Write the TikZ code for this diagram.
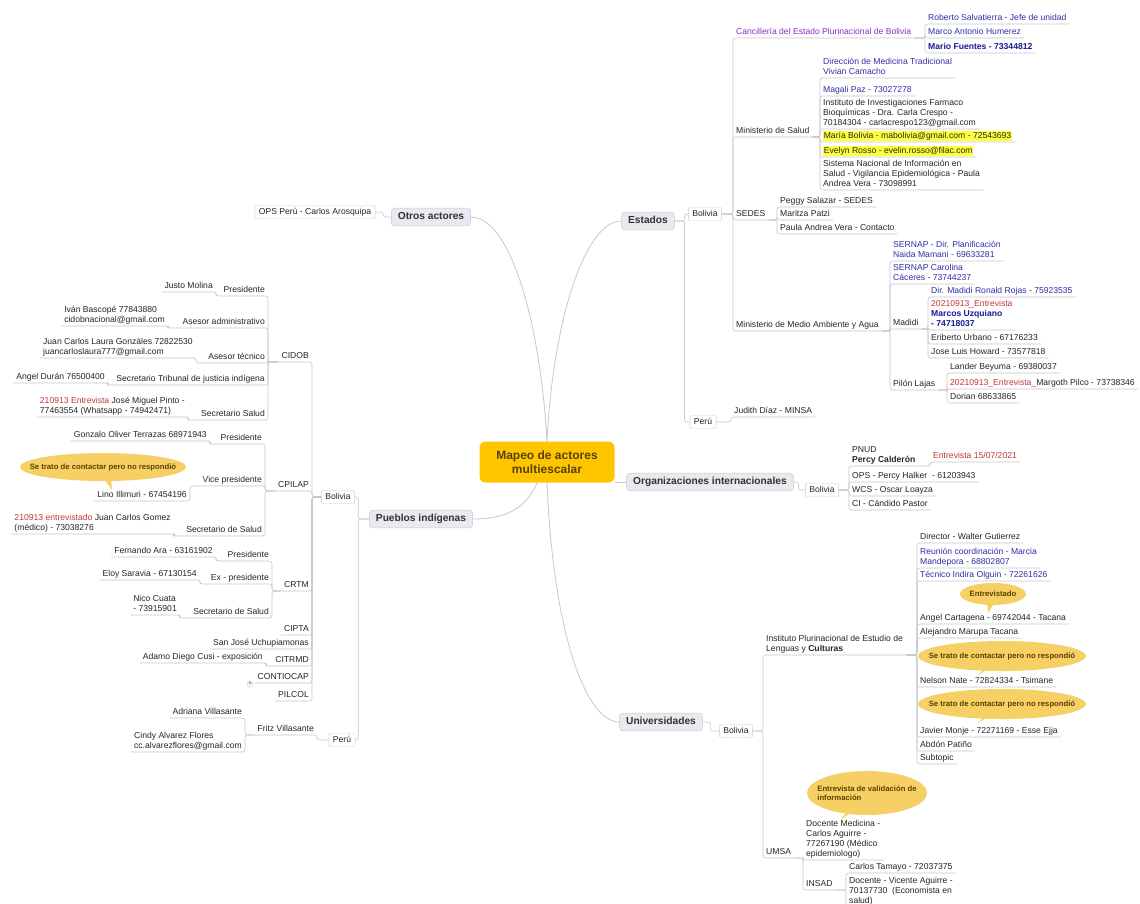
\documentclass[tikz,border=0pt]{standalone}
\usepackage{fontspec}
\setmainfont{Liberation Sans}
\usetikzlibrary{calc}
\definecolor{txt}{RGB}{38,38,38}
\definecolor{tblue}{RGB}{48,48,165}
\definecolor{tpurp}{RGB}{130,50,200}
\definecolor{tred}{RGB}{195,55,55}
\definecolor{tdblue}{RGB}{25,25,145}
\definecolor{hly}{RGB}{255,255,60}
\definecolor{lnc}{RGB}{200,200,200}
\definecolor{topf}{RGB}{233,233,239}
\definecolor{topb}{RGB}{200,200,210}
\definecolor{topt}{RGB}{50,50,50}
\definecolor{cenf}{RGB}{255,198,0}
\definecolor{cent}{RGB}{85,65,10}
\definecolor{cof}{RGB}{246,208,100}
\definecolor{cot}{RGB}{90,65,0}
\definecolor{sbb}{RGB}{205,205,205}
\newcommand\fs{\fontsize{8.6}{9.8}\selectfont}
\newcommand\rd[1]{\textcolor{tred}{#1}}
\newcommand\hlt[1]{{\setlength{\fboxsep}{0.6pt}\colorbox{hly}{#1}}}
\newcommand\nR[5][]{\node[tx, anchor=south west, #1] (#2) at (#3,#4) {#5};}
\newcommand\nL[5][]{\node[tx, anchor=south east, #1] (#2) at (#3,#4) {#5};}
\newcommand\rconn[2]{\draw[ln] (#1.south east) -- (#1.south east -| #2.south west) -- (#2.south west) -- (#2.south east);}
\newcommand\bconn[2]{\draw[ln] (#1.east) -- (#1.east -| #2.south west) -- (#2.south west) -- (#2.south east);}
\newcommand\lconn[2]{\draw[ln] (#1.south west) -- (#1.south west -| #2.south east) -- (#2.south east) -- (#2.south west);}
\newcommand\lbconn[2]{\draw[ln] (#1.west) -- (#1.west -| #2.south east) -- (#2.south east) -- (#2.south west);}
\newcommand\bubble[6]{% name, x, y, rx, ry, tip
  \coordinate (#1c) at (#2,#3);
  \coordinate (#1t) at #6;
  \fill[cof] ($(#1c)+(-7,0)$) -- (#1t) -- ($(#1c)+(7,0)$) -- cycle;
  \fill[cof] (#1c) ellipse [x radius=#4, y radius=#5];}
\tikzset{
  tx/.style={font=\fs, text=txt, inner xsep=3pt, inner ysep=1.5pt, text depth=2pt, align=left},
  ln/.style={draw=lnc, line width=0.6pt, rounded corners=2.5pt},
  topic/.style={draw=topb, fill=topf, rounded corners=3pt, font=\bfseries\fontsize{10.2}{12}\selectfont, text=topt, inner xsep=6.5pt, inner ysep=4pt, text height=7.5pt, text depth=2.2pt},
  sbox/.style={draw=sbb, fill=white, rounded corners=1.5pt, font=\fs, text=txt, inner xsep=4pt, inner ysep=2.5pt, text height=6.5pt, text depth=2pt},
  btext/.style={text=cot, font=\bfseries\fontsize{7.7}{9.6}\selectfont, inner sep=0pt, align=left},
  mainline/.style={draw=lnc, line width=0.8pt},
  central/.style={fill=cenf, rounded corners=6pt, minimum width=135pt, minimum height=41pt, text=cent, font=\bfseries\fontsize{12}{14}\selectfont, align=center, inner sep=2pt}
}
\begin{document}
\begin{tikzpicture}[x=1pt,y=-1pt]
\useasboundingbox (0,0) rectangle (1140,903);
\fill[white] (0,0) rectangle (1140,903);

% ---------- central and main topics
\node[central] (cen) at (547,462) {Mapeo de actores\\multiescalar};
\node[topic] (est) at (648,221) {Estados};
\node[topic] (otr) at (431,217) {Otros actores};
\node[topic] (org) at (710,482) {Organizaciones internacionales};
\node[topic] (pue) at (421,519) {Pueblos indígenas};
\node[topic] (uni) at (661,722) {Universidades};

\draw[mainline] (cen.north) .. controls (553,320) and (585,221) .. (est.west);
\draw[mainline] (cen.north) .. controls (540,320) and (510,217) .. (otr.east);
\draw[mainline] ($(cen.south)+(-10,0)$) .. controls (525,512) and (500,519) .. (pue.east);
\draw[mainline] (cen.south) .. controls (553,630) and (585,722) .. (uni.west);
\draw[mainline] (cen.east |- org.west) -- (org.west);

% ---------- Estados
\node[sbox] (eb) at (705,214) {Bolivia};
\node[sbox] (ep) at (703,422) {Perú};
\draw[ln] (est.east) -- ($(est.east)+(10,0)$) |- (eb.west);
\draw[ln] (est.east) -- ($(est.east)+(10,0)$) |- (ep.west);

\nR[text=tpurp]{canc}{733}{38}{Cancillería del Estado Plurinacional de Bolivia}
\nR{msal}{733}{137}{Ministerio de Salud}
\nR{sedes}{733}{220}{SEDES}
\nR{mma}{733}{331}{Ministerio de Medio Ambiente y Agua}
\bconn{eb}{canc}\bconn{eb}{msal}\bconn{eb}{sedes}\bconn{eb}{mma}

\nR[text=tblue]{rob}{925}{24}{Roberto Salvatierra - Jefe de unidad}
\nR[text=tblue]{marco}{925}{38}{Marco Antonio Humerez}
\nR[text=tdblue,font=\fs\bfseries]{mario}{925}{53}{Mario Fuentes - 73344812}
\rconn{canc}{rob}\rconn{canc}{marco}\rconn{canc}{mario}

\nR[text=tblue]{dmt}{820}{78}{Dirección de Medicina Tradicional\\Vivian Camacho}
\nR[text=tblue]{mag}{820}{96}{Magali Paz - 73027278}
\nR{inst}{820}{129}{Instituto de Investigaciones Farmaco\\Bioquímicas - Dra. Carla Crespo -\\70184304 - carlacrespo123@gmail.com}
\nR{mar}{820}{142}{\hlt{María Bolivia - mabolivia@gmail.com - 72543693}}
\nR{eve}{820}{157}{\hlt{Evelyn Rosso - evelin.rosso@filac.com}}
\nR{sis}{820}{190}{Sistema Nacional de Información en\\Salud - Vigilancia Epidemiológica - Paula\\Andrea Vera - 73098991}
\rconn{msal}{dmt}\rconn{msal}{mag}\rconn{msal}{inst}\rconn{msal}{mar}\rconn{msal}{eve}\rconn{msal}{sis}

\nR{peg}{777}{207}{Peggy Salazar - SEDES}
\nR{mari}{777}{220}{Maritza Patzi}
\nR{pau}{777}{234}{Paula Andrea Vera - Contacto}
\rconn{sedes}{peg}\rconn{sedes}{mari}\rconn{sedes}{pau}

\nR[text=tblue]{ser1}{890}{261}{SERNAP - Dir. Planificación\\Naida Mamani - 69633281}
\nR[text=tblue]{ser2}{890}{284}{SERNAP Carolina\\Cáceres - 73744237}
\nR{mad}{890}{329}{Madidi}
\nR{pil}{890}{390}{Pilón Lajas}
\rconn{mma}{ser1}\rconn{mma}{ser2}\rconn{mma}{mad}\rconn{mma}{pil}

\nR[text=tblue]{ron}{928}{297}{Dir. Madidi Ronald Rojas - 75923535}
\nR{muz}{928}{330}{\rd{20210913\_Entrevista}\\\textcolor{tdblue}{\textbf{Marcos Uzquiano}}\\\textcolor{tdblue}{\textbf{- 74718037}}}
\nR{eri}{928}{344}{Eriberto Urbano - 67176233}
\nR{jlh}{928}{358}{Jose Luis Howard - 73577818}
\rconn{mad}{ron}\rconn{mad}{muz}\rconn{mad}{eri}\rconn{mad}{jlh}

\nR{lan}{947}{373}{Lander Beyuma - 69380037}
\nR{mpi}{947}{389}{\rd{20210913\_Entrevista\_}Margoth Pilco - 73738346}
\nR{dor}{947}{403}{Dorian 68633865}
\rconn{pil}{lan}\rconn{pil}{mpi}\rconn{pil}{dor}

\nR{jud}{731}{417}{Judith Díaz - MINSA}
\bconn{ep}{jud}

% ---------- Organizaciones internacionales
\node[sbox] (ob) at (822,490) {Bolivia};
\draw[ln] (org.east) -- ($(org.east)+(5,0)$) |- (ob.west);
\nR{pnud}{849}{466}{PNUD\\\textbf{Percy Calderón}}
\nR[text=tred]{ent}{930}{462}{Entrevista 15/07/2021}
\nR{ops}{849}{482}{OPS - Percy Halker~ - 61203943}
\nR{wcs}{849}{496}{WCS - Oscar Loayza}
\nR{ci}{849}{510}{CI - Cándido Pastor}
\bconn{ob}{pnud}\bconn{ob}{ops}\bconn{ob}{wcs}\bconn{ob}{ci}
\rconn{pnud}{ent}

% ---------- Universidades
\node[sbox] (ub) at (736,731) {Bolivia};
\draw[ln] (uni.east) -- ($(uni.east)+(8,0)$) |- (ub.west);
\nR{ipel}{763}{655}{Instituto Plurinacional de Estudio de\\Lenguas y \textbf{Culturas}}
\nR{umsa}{763}{858}{UMSA}
\bconn{ub}{ipel}\bconn{ub}{umsa}

\bubble{ca}{993}{594}{33}{11}{(988,613)}
\node[btext] (c1) at (cac) {Entrevistado};
\bubble{cb}{1002}{656}{84}{15}{(978,675)}
\node[btext] (c2) at (cbc) {Se trato de contactar pero no respondió};
\bubble{cc}{1002}{704}{84}{15}{(978,723)}
\node[btext] (c3) at (ccc) {Se trato de contactar pero no respondió};

\nR{dir}{917}{543}{Director - Walter Gutierrez}
\nR[text=tblue]{reu}{917}{568}{Reunión coordinación - Marcia\\Mandepora - 68802807}
\nR[text=tblue]{tec}{917}{581}{Técnico Indira Olguin - 72261626}
\nR{ang}{917}{624}{Angel Cartagena - 69742044 - Tacana}
\nR{ale}{917}{638}{Alejandro Marupa Tacana}
\nR{nel}{917}{687}{Nelson Nate - 72824334 - Tsimane}
\nR{jav}{917}{737}{Javier Monje - 72271169 - Esse Ejja}
\nR{abd}{917}{751}{Abdón Patiño}
\nR{sub}{917}{764}{Subtopic}
\rconn{ipel}{dir}\rconn{ipel}{reu}\rconn{ipel}{tec}\rconn{ipel}{ang}\rconn{ipel}{ale}
\rconn{ipel}{nel}\rconn{ipel}{jav}\rconn{ipel}{abd}\rconn{ipel}{sub}

\bubble{cd}{867}{793}{60}{22}{(840,821)}
\node[btext] (c4) at (cdc) {Entrevista de validación de\\información};
\nR{docm}{803}{860}{Docente Medicina -\\Carlos Aguirre -\\77267190 (Médico\\epidemiologo)}
\nR{insad}{803}{890}{INSAD}
\rconn{umsa}{docm}\rconn{umsa}{insad}
\nR{tam}{846}{873}{Carlos Tamayo - 72037375}
\nR{vic}{846}{907}{Docente - Vicente Aguirre -\\70137730~ (Economista en\\salud)}
\rconn{insad}{tam}\rconn{insad}{vic}

% ---------- Otros actores
\node[sbox] (opsp) at (315,212) {OPS Perú - Carlos Arosquipa};
\draw[ln] (otr.west) -- ($(otr.west)+(-8,0)$) |- (opsp.east);

% ---------- Pueblos indigenas
\node[sbox] (pb) at (338,497) {Bolivia};
\node[sbox] (pp) at (342,740) {Perú};
\draw[ln] (pue.west) -- ($(pue.west)+(-11,0)$) |- (pb.east);
\draw[ln] (pue.west) -- ($(pue.west)+(-11,0)$) |- (pp.east);

\nL{cidob}{312}{362}{CIDOB}
\nL{cpil}{312}{491}{CPILAP}
\nL{crtm}{312}{591}{CRTM}
\nL{cipta}{312}{635}{CIPTA}
\nL{sjo}{312}{649}{San José Uchupiamonas}
\nL{citr}{312}{666}{CITRMD}
\nL{cont}{312}{683}{CONTIOCAP}
\nL{pilc}{312}{701}{PILCOL}
\lbconn{pb}{cidob}\lbconn{pb}{cpil}\lbconn{pb}{crtm}\lbconn{pb}{cipta}
\lbconn{pb}{sjo}\lbconn{pb}{citr}\lbconn{pb}{cont}\lbconn{pb}{pilc}
\node[draw=lnc, fill=white, circle, inner sep=0pt, minimum size=6pt, text=txt, font=\fontsize{6}{6}\selectfont] (plus) at (250,684) {+};

\nL{pre1}{268}{296}{Presidente}
\nL{aad}{268}{328}{Asesor administrativo}
\nL{ate}{268}{363}{Asesor técnico}
\nL{stj}{268}{385}{Secretario Tribunal de justicia indígena}
\nL{ssa}{268}{420}{Secretario Salud}
\lconn{cidob}{pre1}\lconn{cidob}{aad}\lconn{cidob}{ate}\lconn{cidob}{stj}\lconn{cidob}{ssa}
\nL{jus}{216}{292}{Justo Molina}
\nL{iva}{168}{326}{Iván Bascopé 77843880\\cidobnacional@gmail.com}
\nL{jcl}{196}{358}{Juan Carlos Laura Gonzáles 72822530\\juancarloslaura777@gmail.com}
\nL{adu}{108}{383}{Angel Durán 76500400}
\nL{jmp}{188}{417}{\rd{210913 Entrevista} José Miguel Pinto -\\77463554 (Whatsapp - 74942471)}
\lconn{pre1}{jus}\lconn{aad}{iva}\lconn{ate}{jcl}\lconn{stj}{adu}\lconn{ssa}{jmp}

\nL{pre2}{265}{444}{Presidente}
\nL{vic2}{265}{486}{Vice presidente}
\nL{ssa2}{265}{536}{Secretario de Salud}
\lconn{cpil}{pre2}\lconn{cpil}{vic2}\lconn{cpil}{ssa2}
\nL{gon}{210}{441}{Gonzalo Oliver Terrazas 68971943}
\bubble{ce}{103}{467}{83}{14}{(112,490)}
\node[btext] (c5) at (cec) {Se trato de contactar pero no respondió};
\nL{lin}{190}{501}{Lino Illimuri - 67454196}
\nL{jcg}{174}{534}{\rd{210913 entrevistado} Juan Carlos Gomez\\(médico) - 73038276}
\lconn{pre2}{gon}\lconn{vic2}{lin}\lconn{ssa2}{jcg}

\nL{pre3}{272}{561}{Presidente}
\nL{exp}{272}{584}{Ex - presidente}
\nL{ssa3}{272}{618}{Secretario de Salud}
\lconn{crtm}{pre3}\lconn{crtm}{exp}\lconn{crtm}{ssa3}
\nL{fer}{216}{557}{Fernando Ara - 63161902}
\nL{elo}{200}{580}{Eloy Saravia - 67130154}
\nL{nic}{180}{615}{Nico Cuata\\- 73915901}
\lconn{pre3}{fer}\lconn{exp}{elo}\lconn{ssa3}{nic}

\nL{ada}{266}{663}{Adamo Diego Cusi - exposición}
\lconn{citr}{ada}

\nL{fri}{317}{735}{Fritz Villasante}
\lbconn{pp}{fri}
\nL{adr}{245}{718}{Adriana Villasante}
\nL{cin}{245}{752}{Cindy Alvarez Flores\\cc.alvarezflores@gmail.com}
\lconn{fri}{adr}\lconn{fri}{cin}
\end{tikzpicture}
\end{document}
